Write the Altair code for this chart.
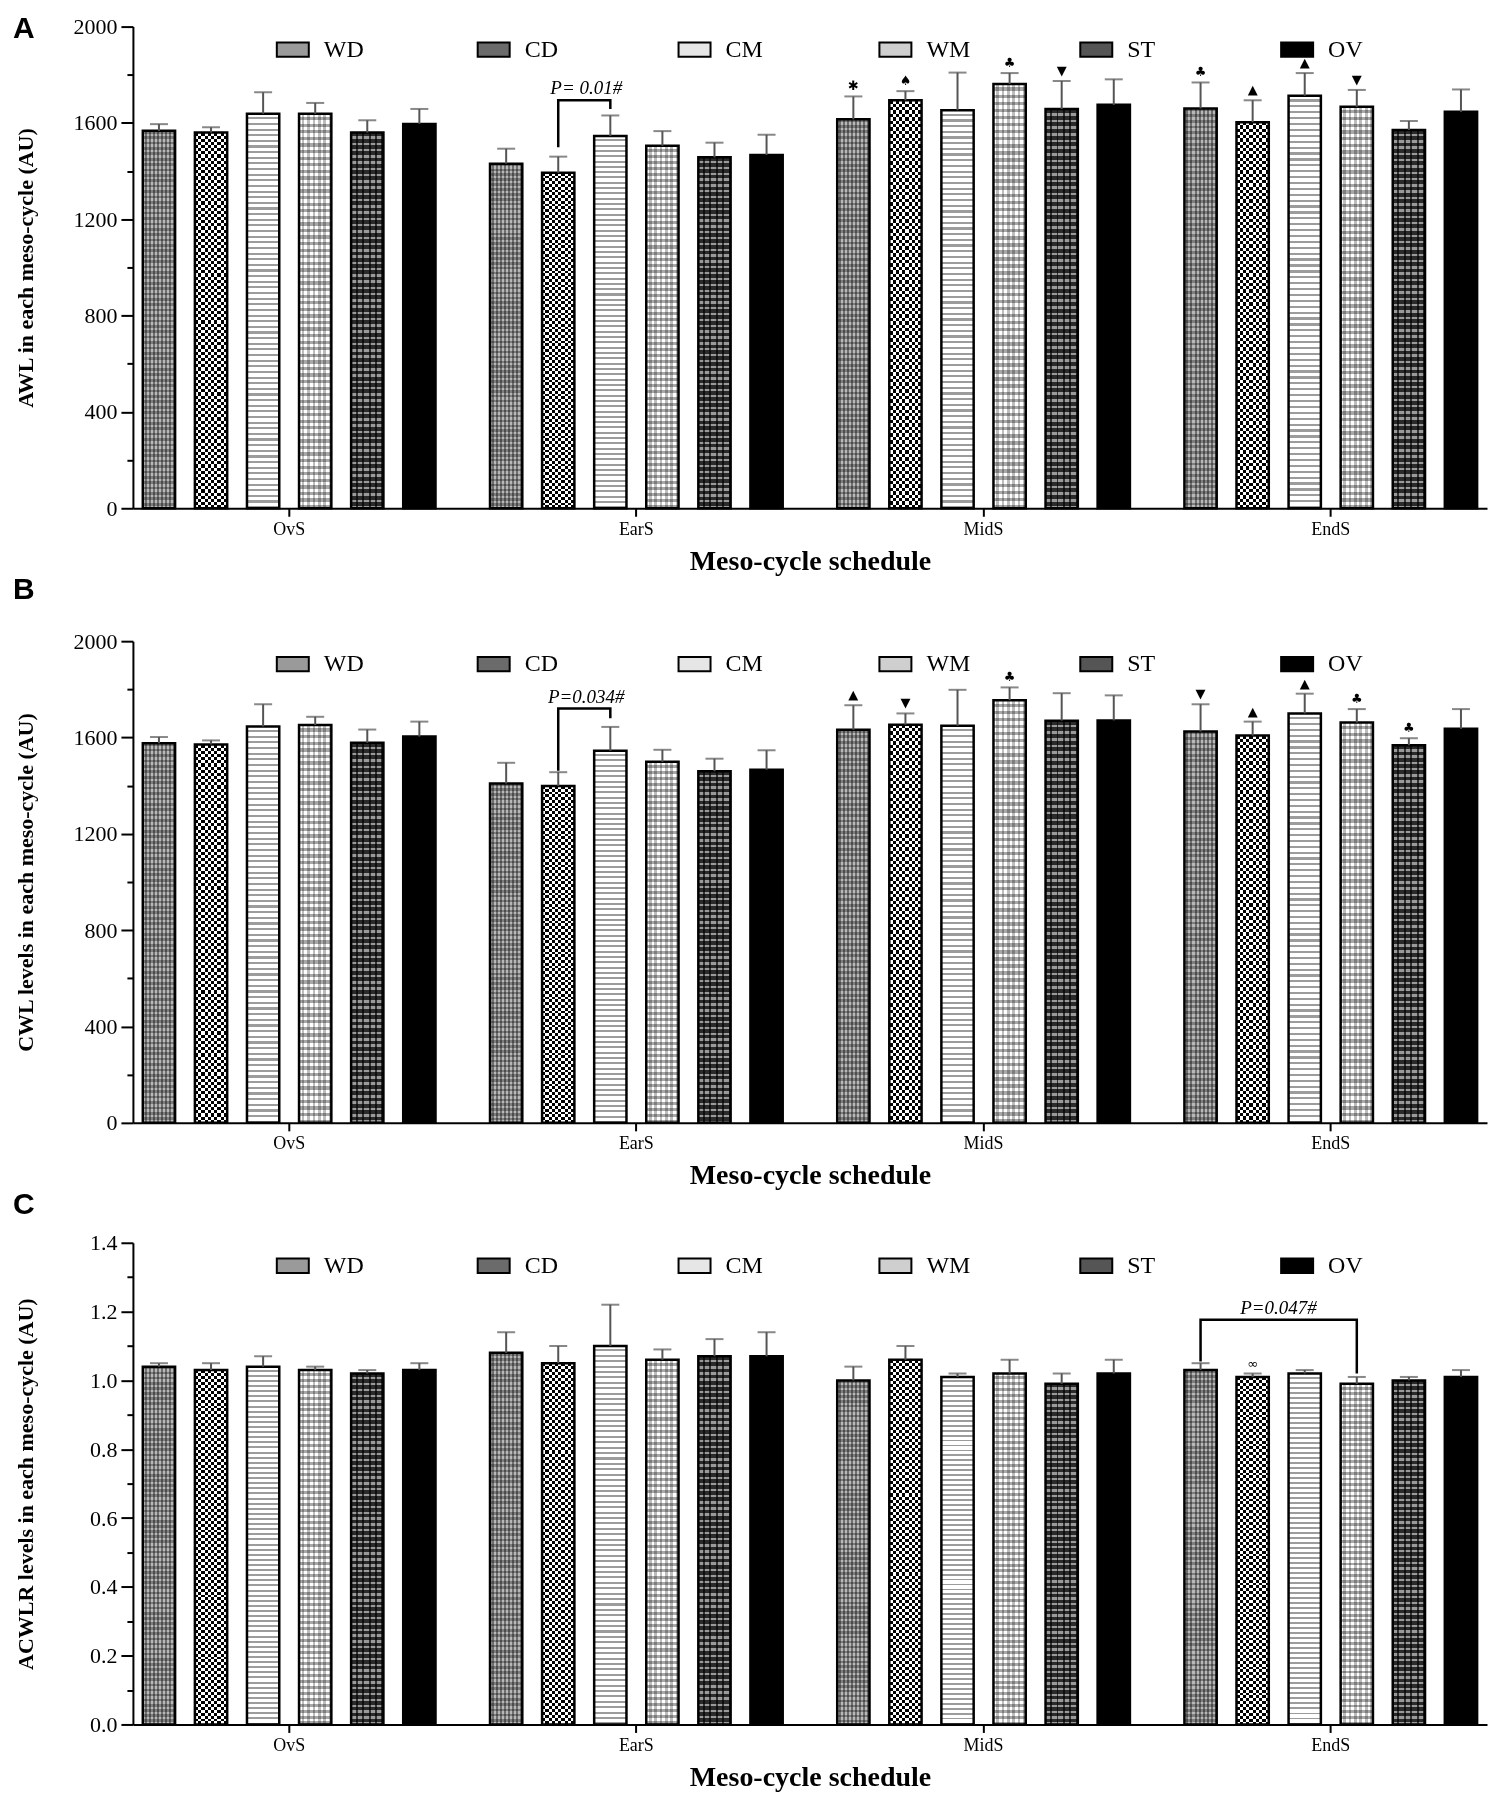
import altair as alt
import pandas as pd

# ---------------- data ----------------
stages = ["OvS", "EarS", "MidS", "EndS"]
series = ["WD", "CD", "CM", "WM", "ST", "OV"]

# rows = stages, columns = series
awl_mean = [
    [1567, 1560, 1638, 1638, 1560, 1596],
    [1431, 1393, 1546, 1505, 1457, 1467],
    [1615, 1694, 1653, 1762, 1658, 1675],
    [1660, 1603, 1713, 1667, 1571, 1646],
]
awl_err = [
    [28, 22, 89, 45, 51, 62],
    [62, 67, 85, 61, 61, 84],
    [95, 38, 156, 45, 116, 106],
    [108, 91, 94, 70, 37, 93],
]
cwl_mean = [
    [1576, 1571, 1646, 1652, 1578, 1604],
    [1409, 1399, 1545, 1499, 1460, 1466],
    [1632, 1653, 1649, 1755, 1670, 1671],
    [1625, 1608, 1700, 1662, 1568, 1636],
]
cwl_err = [
    [26, 17, 92, 34, 55, 62],
    [86, 57, 99, 50, 52, 81],
    [102, 47, 149, 53, 114, 104],
    [113, 58, 82, 56, 29, 82],
]
acwlr_mean = [
    [1.04, 1.03, 1.04, 1.03, 1.02, 1.03],
    [1.08, 1.05, 1.10, 1.06, 1.07, 1.07],
    [1.00, 1.06, 1.01, 1.02, 0.99, 1.02],
    [1.03, 1.01, 1.02, 0.99, 1.00, 1.01],
]
acwlr_err = [
    [0.01, 0.02, 0.03, 0.01, 0.01, 0.02],
    [0.06, 0.05, 0.12, 0.03, 0.05, 0.07],
    [0.04, 0.04, 0.01, 0.04, 0.03, 0.04],
    [0.02, 0.01, 0.01, 0.02, 0.01, 0.02],
]

# significance symbols: (stage, series, symbol)
awl_marks = [("MidS", "WD", "✱"), ("MidS", "CD", "♠"), ("MidS", "WM", "♣"), ("MidS", "ST", "▼"),
             ("EndS", "WD", "♣"), ("EndS", "CD", "▲"), ("EndS", "CM", "▲"), ("EndS", "WM", "▼")]
cwl_marks = [("MidS", "WD", "▲"), ("MidS", "CD", "▼"), ("MidS", "WM", "♣"),
             ("EndS", "WD", "▼"), ("EndS", "CD", "▲"), ("EndS", "CM", "▲"), ("EndS", "WM", "♣"),
             ("EndS", "ST", "♣")]
acwlr_marks = [("EndS", "CD", "∞")]

# comparison brackets: stage, points (series, value), label
awl_bracket = ("EarS", [("CD", 1499), ("CD", 1694), ("CM", 1694), ("CM", 1658)], "P= 0.01#")
cwl_bracket = ("EarS", [("CD", 1462), ("CD", 1720), ("CM", 1720), ("CM", 1680)], "P=0.034#")
acwlr_bracket = ("EndS", [("WD", 1.055), ("WD", 1.176), ("WM", 1.176), ("WM", 1.02)], "P=0.047#")

legend_colors = ["#9a9a9a", "#6b6b6b", "#e6e6e6", "#cfcfcf", "#555555", "#000000"]

SERIF = "Liberation Serif"
W, H = 1355, 482


# ---------------- pattern-like fills ----------------
def stripes(n, c1, c2, frac=0.5, vertical=False):
    stops = []
    for i in range(n):
        a = round(i / n, 5)
        m = round((i + frac) / n, 5)
        b = round((i + 1) / n, 5)
        stops += [{"offset": a, "color": c1}, {"offset": m, "color": c1},
                  {"offset": m, "color": c2}, {"offset": b, "color": c2}]
    g = {"gradient": "linear", "stops": stops, "x1": 0, "y1": 0}
    if vertical:
        g.update({"x2": 1, "y2": 0})
    else:
        g.update({"x2": 0, "y2": 1})
    return g


fills = {
    "WD": [(stripes(70, "#7e7e7e", "#b8b8b8"), None),
           (stripes(8, "#ffffff", "#9a9a9a", vertical=True), "multiply")],
    "CD": [(stripes(60, "#000000", "#ffffff"), None),
           (stripes(5, "#000000", "#ffffff", vertical=True), "difference")],
    "CM": [(stripes(70, "#ffffff", "#9c9c9c", frac=0.62), None)],
    "WM": [(stripes(60, "#ffffff", "#a8a8a8"), None),
           (stripes(6, "#ffffff", "#bdbdbd", vertical=True), "multiply")],
    "ST": [(stripes(60, "#2a2a2a", "#9a9a9a", frac=0.6), None),
           (stripes(5, "#ffffff", "#555555", frac=0.7, vertical=True), "multiply")],
    "OV": [("#000000", None)],
}


def panel(mean, err, letter, letter_y, ytitle, ydomain, yvalues, major_test, yformat,
          marks, bracket, text_dx):
    rows = []
    for si, stg in enumerate(stages):
        for ki, s in enumerate(series):
            rows.append({"stage": stg, "series": s, "mean": mean[si][ki],
                         "upper": round(mean[si][ki] + err[si][ki], 4)})
    df = pd.DataFrame(rows)

    def upper_of(stg, s):
        si, ki = stages.index(stg), series.index(s)
        return round(mean[si][ki] + err[si][ki], 4)

    mdf = pd.DataFrame([{"stage": a, "series": b, "sym": c, "upper": upper_of(a, b)} for a, b, c in marks])
    bstage, bpts, blabel = bracket
    bdf = pd.DataFrame([{"stage": bstage, "series": s, "value": v, "ord": i} for i, (s, v) in enumerate(bpts)])
    tdf = pd.DataFrame([{"stage": bstage, "series": bpts[1][0], "value": bpts[1][1], "label": blabel}])

    xaxis = alt.Axis(title="Meso-cycle schedule", labelAngle=0, tickSize=8, labelFontSize=18,
                     labelPadding=4, titleFontSize=28, titleFontWeight="bold", titlePadding=9,
                     labelFont=SERIF, titleFont=SERIF)
    X = alt.X("stage:N", sort=stages, scale=alt.Scale(domain=stages, paddingInner=0.1, paddingOuter=0),
              axis=xaxis)
    XO = alt.XOffset("series:N", sort=series,
                     scale=alt.Scale(domain=series, paddingInner=0.38, paddingOuter=0.19))
    yaxis = alt.Axis(title=ytitle, values=yvalues, format=yformat,
                     labelExpr=f"({major_test}) ? datum.label : ''",
                     tickSize={"condition": {"test": major_test, "value": 12}, "value": 6},
                     labelFontSize=22, labelPadding=4, titleFontSize=22, titleFontWeight="bold",
                     titleX=-107, titleBaseline="middle", labelFont=SERIF, titleFont=SERIF)

    def Y(field):
        return alt.Y(f"{field}:Q", scale=alt.Scale(domain=ydomain, nice=False, zero=True), axis=yaxis)

    base = alt.Chart(df)
    layers = []
    # legend-carrying base bars (covered by pattern layers)
    layers.append(base.mark_bar().encode(
        x=X, xOffset=XO, y=Y("mean"),
        fill=alt.Fill("series:N", scale=alt.Scale(domain=series, range=legend_colors),
                      legend=alt.Legend(orient="none", legendX=143, legendY=6, direction="horizontal",
                                        columns=6, title=None, gridAlign="all", columnPadding=106,
                                        symbolType="M-1,-0.45H1V0.45H-1Z", symbolSize=1024,
                                        symbolStrokeColor="black", symbolStrokeWidth=2,
                                        symbolOpacity=1, labelFont=SERIF, labelFontSize=24,
                                        labelColor="black", labelOffset=14))))
    for s in series:
        for fill, blend in fills[s]:
            kw = {"fill": fill}
            if blend:
                kw["blend"] = blend
            layers.append(base.transform_filter(alt.datum.series == s).mark_bar(**kw).encode(
                x=X, xOffset=XO, y=Y("mean")))
    # outlines
    layers.append(base.mark_bar(fillOpacity=0, stroke="black", strokeWidth=2.5).encode(
        x=X, xOffset=XO, y=Y("mean")))
    # error bars
    layers.append(base.mark_rule(color="#555555", strokeWidth=2).encode(
        x=X, xOffset=XO, y=Y("mean"), y2="upper:Q"))
    layers.append(base.mark_tick(color="#555555", size=18, thickness=2).encode(
        x=X, xOffset=XO, y=Y("upper")))
    # significance symbols
    layers.append(alt.Chart(mdf).mark_text(font="DejaVu Sans", fontSize=13, baseline="bottom", dy=-3,
                                           color="black").encode(
        x=X, xOffset=XO, y=Y("upper"), text="sym:N"))
    # bracket
    layers.append(alt.Chart(bdf).mark_line(color="black", strokeWidth=2.5).encode(
        x=X, xOffset=XO, y=Y("value"), order="ord:Q"))
    layers.append(alt.Chart(tdf).mark_text(font=SERIF, fontStyle="italic", fontSize=19, baseline="bottom",
                                           dx=text_dx, dy=-2, color="black").encode(
        x=X, xOffset=XO, y=Y("value"), text="label:N"))
    # panel letter
    layers.append(alt.Chart(pd.DataFrame({"t": [letter]})).mark_text(
        font="Liberation Sans", fontWeight="bold", fontSize=30, align="left", baseline="middle",
        color="black").encode(text="t:N", x=alt.value(-120), y=alt.value(letter_y)))

    return alt.layer(*layers).properties(width=W, height=H)


vals_big = list(range(0, 2001, 200))
vals_c = [round(i * 0.1, 1) for i in range(15)]

pa = panel(awl_mean, awl_err, "A", 2, "AWL in each meso-cycle (AU)", [0, 2000], vals_big,
           "datum.value % 400 === 0", "d", awl_marks, awl_bracket, 28)
pb = panel(cwl_mean, cwl_err, "B", -51, "CWL levels in each meso-cycle (AU)", [0, 2000], vals_big,
           "datum.value % 400 === 0", "d", cwl_marks, cwl_bracket, 28)
pc = panel(acwlr_mean, acwlr_err, "C", -38, "ACWLR levels in each meso-cycle (AU)", [0, 1.4], vals_c,
           "round(datum.value * 10) % 2 === 0", ".1f", acwlr_marks, acwlr_bracket, 78)

chart = alt.vconcat(pa, pb, pc, spacing=0).resolve_scale(
    y="independent", fill="independent"
).configure_view(stroke=None).configure_axis(
    domainColor="black", domainWidth=2, tickColor="black", tickWidth=2,
    labelColor="black", titleColor="black", grid=False
).properties(background="white")

chart.save("out.html", embed_options={"renderer": "svg", "actions": False})
